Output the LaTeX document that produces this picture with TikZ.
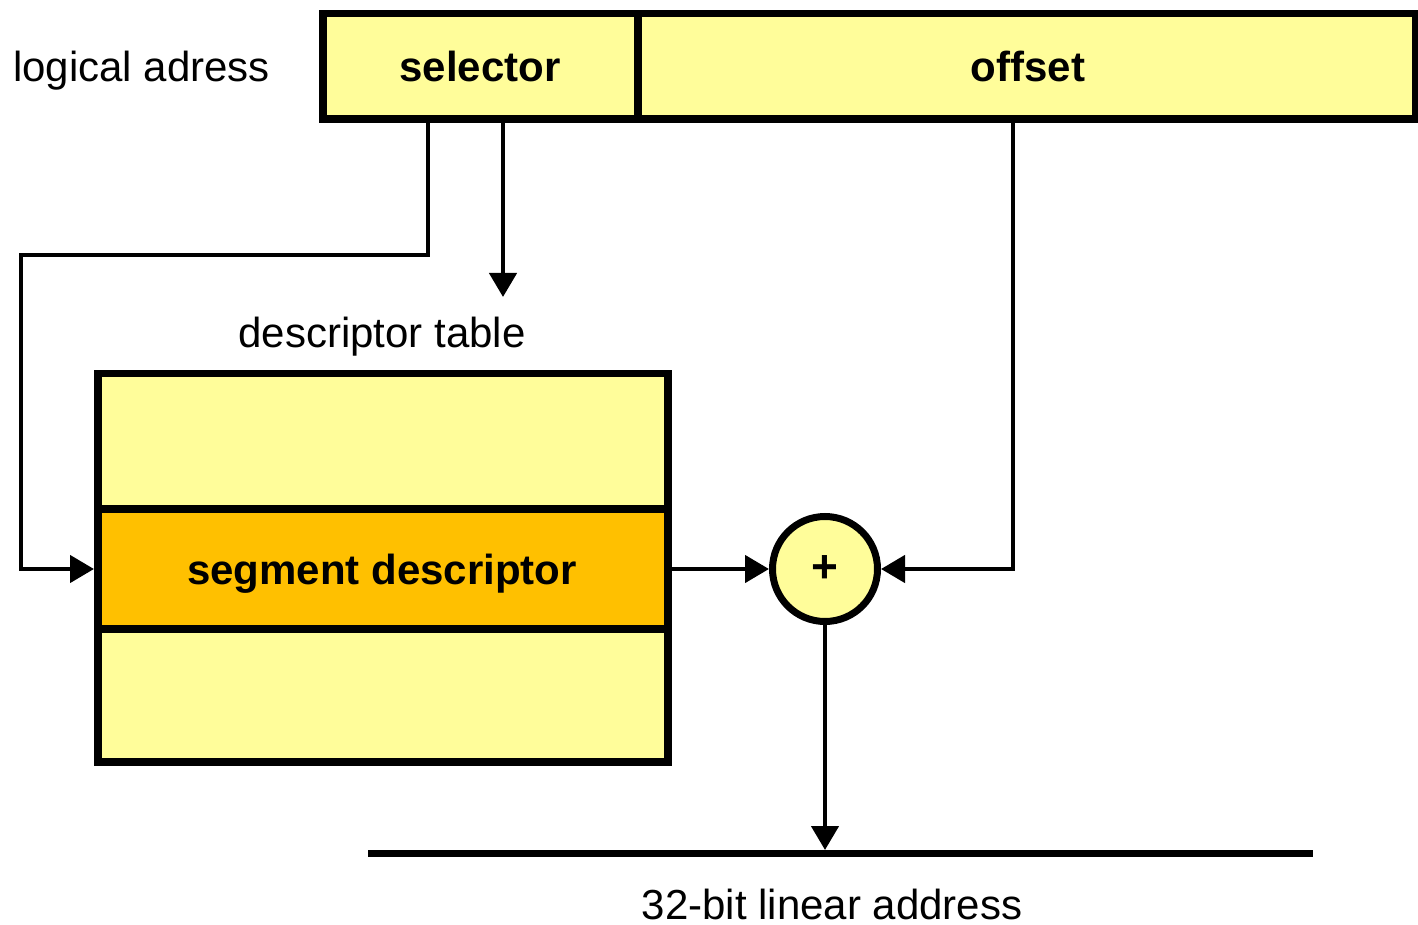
\documentclass[tikz,border=0pt]{standalone}
\usepackage{fontspec}
\setmainfont{Liberation Sans}
\usetikzlibrary{arrows.meta}
\definecolor{lyellow}{HTML}{FFFD9A}
\definecolor{dorange}{HTML}{FFC000}
\begin{document}
\begin{tikzpicture}[x=1pt,y=-1pt,
  box/.style={draw=black,line width=7.5pt,fill=lyellow,inner sep=0pt,outer sep=0pt,anchor=north west},
  conn/.style={draw=black,line width=4.5pt,-{Triangle[length=24pt,width=27pt]}},
  lbl/.style={font=\fontsize{42}{50}\selectfont,inner sep=0pt,anchor=base},
  blbl/.style={font=\fontsize{42}{50}\selectfont\bfseries,inner sep=0pt,anchor=base}]
\useasboundingbox (0,0) rectangle (1418,925);
% logical address
\node[box,minimum width=315pt,minimum height=105.5pt] (sel) at (323,13.5) {};
\node[box,minimum width=778pt,minimum height=105.5pt] (off) at (638,13.5) {};
\node[blbl] (selt) at (480,82) {selector};
\node[blbl] (offt) at (1028,82) {offset};
\node[lbl,anchor=base west] (la) at (13,82) {logical adress};
% descriptor table
\node[box,minimum width=570pt,minimum height=388.5pt] (tab) at (98,373.5) {};
\node[box,fill=dorange,minimum width=570pt,minimum height=120pt] (seg) at (98,509) {};
\node[blbl] (segt) at (382,584) {segment descriptor};
\node[lbl] (dt) at (382,347) {descriptor table};
% adder
\node[circle,draw=black,line width=7pt,fill=lyellow,minimum size=105pt,inner sep=0pt] (add) at (825,569) {};
\node[font=\fontsize{46}{50}\selectfont\bfseries,inner sep=0pt] (plus) at (825,569) {+};
% linear address line
\coordinate (lL) at (368,853.5);
\coordinate (lR) at (1313,853.5);
\draw[line width=7pt] (lL) -- (lR);
\node[lbl] (lin) at (832,919) {32-bit linear address};
% connectors
\coordinate (s1) at (428,119);
\coordinate (s2) at (503,119);
\coordinate (s2e) at (503,297);
\coordinate (o1) at (1013,119);
\coordinate (tabin) at (94,569);
\coordinate (lt) at (825,850);
\draw[conn] (s1) -- (428,255) -- (21,255) -- (21,569) -- (tabin);
\draw[conn] (s2) -- (s2e);
\draw[conn] (seg.east) -- (add.west);
\draw[conn] (o1) -- (1013,569) -- (add.east);
\draw[conn] (add.south) -- (lt);
\end{tikzpicture}
\end{document}
